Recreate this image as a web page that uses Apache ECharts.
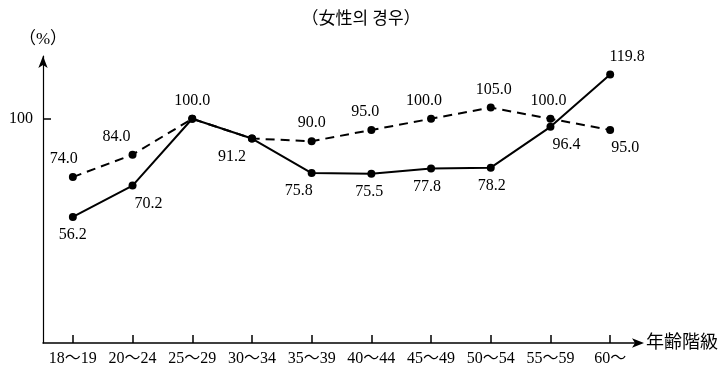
<!DOCTYPE html>
<html>
<head>
<meta charset="utf-8">
<script src="https://cdn.jsdelivr.net/npm/echarts@6/dist/echarts.min.js"></script>
<style>html,body{margin:0;padding:0;background:#fff;}#chart{width:721px;height:372px;}</style>
</head>
<body>
<div id="chart"></div>
<script>
const titleText = '（女性의 경우）';
const categories = ['18～19','20～24','25～29','30～34','35～39','40～44','45～49','50～54','55～59','60～'];
const solidValues = [56.2, 70.2, 100.0, 91.2, 75.8, 75.5, 77.8, 78.2, 96.4, 119.8];
const dashedValues = [74.0, 84.0, 100.0, 91.2, 90.0, 95.0, 100.0, 105.0, 100.0, 95.0];
const yTickValues = [100];
const yAxisName = '（%）';
const xAxisName = '年齢階級';

// label placement (style only)
const solidLabelPos = ['bottom','bottom','top','bottom','bottom','bottom','bottom','bottom','bottom','top'];
const solidLabelOff = [[0,0],[16,0],[0,0],[-20,0],[-13,0],[-2,0],[-4,0],[1,0],[16,0],[17,0]];
const dashedLabelShow = [true,true,false,false,true,true,true,true,true,true];
const dashedLabelPos = ['top','top','top','top','top','top','top','top','top','bottom'];
const dashedLabelOff = [[-9,0],[-16,0],[0,0],[0,0],[0,0],[-6,0],[-7,0],[3,0],[-2,0],[15,0]];

const FONT = "'Liberation Serif', 'Noto Sans CJK JP', serif";

function fmt(v){ return v.toFixed(1); }

const solidData = solidValues.map((v,i)=>({
  value: v,
  label: {show:true, position: solidLabelPos[i], offset: solidLabelOff[i], formatter: fmt(v)}
}));
const dashedData = dashedValues.map((v,i)=>({
  value: v,
  label: {show: dashedLabelShow[i], position: dashedLabelPos[i], offset: dashedLabelOff[i], formatter: fmt(v)}
}));

const chart = echarts.init(document.getElementById('chart'), null, {renderer:'canvas'});
chart.setOption({
  animation: false,
  backgroundColor: '#fff',
  textStyle: {fontFamily: FONT, color:'#000'},
  title: {
    text: titleText, left: 356, top: 6, textAlign: 'center',
    textStyle: {fontFamily: FONT, fontSize: 17, fontWeight: 'normal', color: '#000'}
  },
  grid: {left: 43, top: 56, width: 600, bottom: 29, containLabel: false},
  xAxis: {
    type: 'category',
    data: categories,
    boundaryGap: true,
    name: xAxisName,
    nameLocation: 'end',
    nameGap: 6,
    nameTextStyle: {fontFamily: FONT, fontSize: 18, color:'#000', verticalAlign:'middle'},
    axisLine: {show: true, onZero: false, lineStyle: {color:'#000', width: 1.5}, symbol: ['none','arrow'], symbolSize: [7, 12], symbolOffset: [0, 4]},
    axisTick: {show: true, inside: true, alignWithLabel: true, interval: 0, length: 8, lineStyle: {color:'#000', width: 1.5}},
    axisLabel: {interval: 0, fontFamily: FONT, fontSize: 16, color:'#000', margin: 8},
    splitLine: {show: false}
  },
  yAxis: {
    type: 'value',
    min: 0, max: 128,
    name: yAxisName,
    nameLocation: 'end',
    nameGap: 8,
    nameTextStyle: {fontFamily: FONT, fontSize: 17, color:'#000', align:'center'},
    axisLine: {show: true, lineStyle: {color:'#000', width: 1.2}, symbol: ['none','arrow'], symbolSize: [7, 12], symbolOffset: [0, 0]},
    axisTick: {show: true, inside: true, length: 8, customValues: yTickValues, lineStyle:{color:'#000', width: 1.5}},
    axisLabel: {show: true, customValues: yTickValues, fontFamily: FONT, fontSize: 16, color:'#000', margin: 10},
    splitLine: {show: false}
  },
  series: [
    {
      type: 'line', data: dashedData, z: 2,
      symbol: 'circle', symbolSize: 8,
      itemStyle: {color:'#000'},
      lineStyle: {color:'#000', width: 2, type: [9, 6]},
      label: {fontFamily: FONT, fontSize: 16, color:'#000', distance: 6}
    },
    {
      type: 'line', data: solidData, z: 3,
      symbol: 'circle', symbolSize: 8,
      itemStyle: {color:'#000'},
      lineStyle: {color:'#000', width: 2},
      label: {fontFamily: FONT, fontSize: 16, color:'#000', distance: 6}
    }
  ]
});
</script>
</body>
</html>
